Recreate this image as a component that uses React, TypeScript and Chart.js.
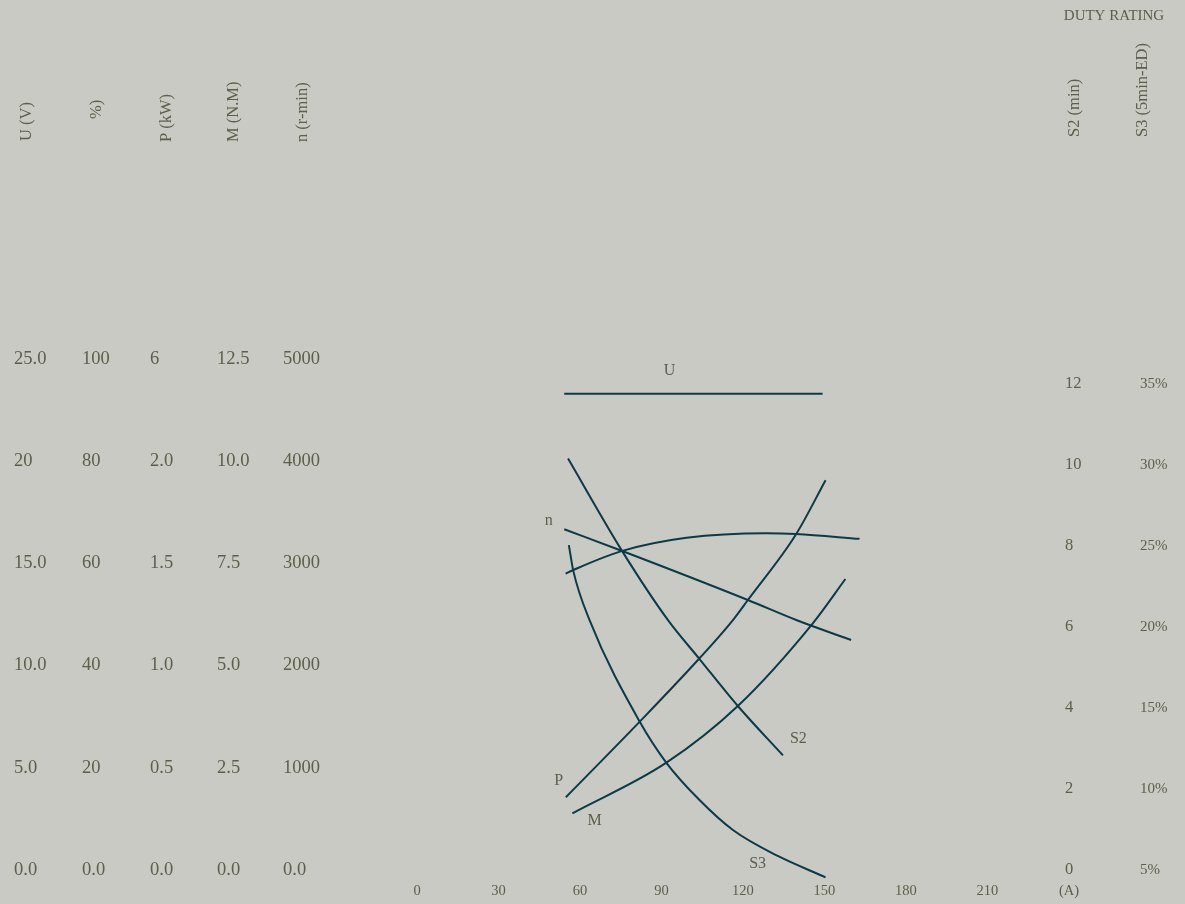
import React, { useEffect, useRef } from 'react';
import { Chart, registerables } from 'chart.js';

Chart.register(...registerables);

// ---------- Axis ticks ----------
const currentTicks = [0, 30, 60, 90, 120, 150, 180, 210, 240];
const currentTickLabels = ['0', '30', '60', '90', '120', '150', '180', '210', '(A)'];
const currentMax = 237.8;

const voltTicks = [0, 5, 10, 15, 20, 25];
const voltTickLabels = ['0.0', '5.0', '10.0', '15.0', '20', '25.0'];
const effTicks = [0, 20, 40, 60, 80, 100];
const effTickLabels = ['0.0', '20', '40', '60', '80', '100'];
const powerTicks = [0, 0.5, 1, 1.5, 2, 2.5];
const powerTickLabels = ['0.0', '0.5', '1.0', '1.5', '2.0', '6'];
const torqueTicks = [0, 2.5, 5, 7.5, 10, 12.5];
const torqueTickLabels = ['0.0', '2.5', '5.0', '7.5', '10.0', '12.5'];
const speedTicks = [0, 1000, 2000, 3000, 4000, 5000];
const speedTickLabels = ['0.0', '1000', '2000', '3000', '4000', '5000'];
const s2Ticks = [0, 2, 4, 6, 8, 10, 12];
const s2TickLabels = ['0', '2', '4', '6', '8', '10', '12'];
const s3Ticks = [5, 10, 15, 20, 25, 30, 35];
const s3TickLabels = ['5%', '10%', '15%', '20%', '25%', '30%', '35%'];

// ---------- Series (current in A) ----------
const uCurrent = [54.2, 149.3];
const uVolts = [23.3, 23.3];

const nCurrent = [54.2, 75.3, 121.8, 139.6, 159.8];
const nSpeed = [3334, 3124, 2642, 2446, 2250];

const effCurrent = [54.7, 57.5, 75.3, 99.2, 128.6, 139.6, 162.9];
const effPercent = [58.0, 58.7, 62.4, 65.0, 65.9, 65.75, 64.8];

const pCurrent = [54.8, 82.0, 104.0, 116.3, 121.8, 139.6, 150.4];
const pPower = [0.356, 0.726, 1.036, 1.223, 1.321, 1.644, 1.907];

const mCurrent = [57.2, 91.8, 118.1, 145.7, 157.7];
const mTorque = [1.387, 2.625, 4.012, 6.035, 7.118];

const s2Current = [55.6, 75.3, 92.4, 104.0, 118.1, 134.7];
const s2Minutes = [10.16, 7.9, 6.17, 5.21, 4.05, 2.83];

const s3Current = [55.9, 57.5, 63.6, 82.0, 91.8, 104.0, 116.3, 133.0, 150.4];
const s3Percent = [25.06, 23.5, 20.4, 14.15, 11.62, 9.32, 7.47, 5.85, 4.55];

// ---------- Curve name labels (in data units) ----------
const curveLabels = [
  { text: 'U', axis: 'yU', x: 93, y: 24.4 },
  { text: 'n', axis: 'yN', x: 48.5, y: 3415 },
  { text: 'P', axis: 'yP', x: 52.2, y: 0.435 },
  { text: 'M', axis: 'yM', x: 65.4, y: 1.2 },
  { text: 'S2', axis: 'yS2', x: 140.4, y: 3.23 },
  { text: 'S3', axis: 'yS3', x: 125.4, y: 5.37 },
];

const axisTitles = [
  { axis: 'yU', text: 'U (V)', dx: 13, bottom: 141 },
  { axis: 'yE', text: '%)', dx: 15, bottom: 119 },
  { axis: 'yP', text: 'P (kW)', dx: 17, bottom: 142 },
  { axis: 'yM', text: 'M (N.M)', dx: 17, bottom: 142 },
  { axis: 'yN', text: 'n (r-min)', dx: 20, bottom: 142 },
  { axis: 'yS2', text: 'S2 (min)', dx: 12, bottom: 137 },
  { axis: 'yS3', text: 'S3 (5min-ED)', dx: 14, bottom: 137 },
];

const FONT = "'Liberation Serif', 'Times New Roman', serif";
const TEXT = '#5b5f4b';
const LINE = '#0b3a49';
const BG = '#c9cac4';

const zip = (xs: number[], ys: number[]) => xs.map((x, i) => ({ x, y: ys[i] }));

function leftAxis(ticks: number[], labels: string[], width: number, weight: number) {
  return {
    type: 'linear',
    position: 'left',
    weight,
    min: ticks[0],
    max: ticks[ticks.length - 1],
    grid: { display: false, drawTicks: false },
    border: { display: false },
    afterBuildTicks: (s: any) => { s.ticks = ticks.map((v) => ({ value: v })); },
    afterFit: (s: any) => { s.width = width; },
    ticks: {
      crossAlign: 'far',
      padding: 0,
      color: TEXT,
      font: { family: FONT, size: 18.5 },
      autoSkip: false,
      callback: (_v: any, i: number) => labels[i],
    },
  };
}

function rightAxis(ticks: number[], labels: string[], min: number, max: number, width: number, weight: number, padding: number, size: number) {
  return {
    type: 'linear',
    position: 'right',
    weight,
    min,
    max,
    grid: { display: false, drawTicks: false },
    border: { display: false },
    afterBuildTicks: (s: any) => { s.ticks = ticks.map((v) => ({ value: v })); },
    afterFit: (s: any) => { s.width = width; },
    ticks: {
      crossAlign: 'near',
      padding,
      color: TEXT,
      font: { family: FONT, size },
      autoSkip: false,
      callback: (_v: any, i: number) => labels[i],
    },
  };
}

const textPlugin = {
  id: 'textPlugin',
  afterDraw(chart: any) {
    const ctx = chart.ctx;
    ctx.save();
    ctx.fillStyle = TEXT;
    // axis titles (rotated)
    ctx.font = `16.5px ${FONT}`;
    axisTitles.forEach((t) => {
      const sc = chart.scales[t.axis];
      ctx.save();
      ctx.translate(sc.left + t.dx, t.bottom);
      ctx.rotate(-Math.PI / 2);
      ctx.textAlign = 'left';
      ctx.textBaseline = 'middle';
      ctx.fillText(t.text, 0, 0);
      ctx.restore();
    });
    // duty rating header
    ctx.font = `15px ${FONT}`;
    ctx.textAlign = 'center';
    ctx.textBaseline = 'middle';
    const s2 = chart.scales.yS2;
    ctx.fillText('DUTY RATING', s2.left + 51, 16);
    // curve labels
    ctx.font = `16px ${FONT}`;
    const xs = chart.scales.x;
    curveLabels.forEach((l) => {
      const px = xs.getPixelForValue(l.x);
      const py = chart.scales[l.axis].getPixelForValue(l.y);
      ctx.fillText(l.text, px, py);
    });
    ctx.restore();
  },
};

function lineDs(data: { x: number; y: number }[], yAxisID: string) {
  return {
    data,
    yAxisID,
    borderColor: LINE,
    backgroundColor: LINE,
    borderWidth: 2,
    pointRadius: 0,
    fill: false,
    cubicInterpolationMode: 'monotone',
    clip: false,
  };
}

export default function App() {
  const ref = useRef<HTMLCanvasElement>(null);
  useEffect(() => {
    const canvas = ref.current;
    if (!canvas) return;
    const chart = new Chart(canvas, {
      type: 'line',
      data: {
        datasets: [
          lineDs(zip(uCurrent, uVolts), 'yU'),
          lineDs(zip(nCurrent, nSpeed), 'yN'),
          lineDs(zip(effCurrent, effPercent), 'yE'),
          lineDs(zip(pCurrent, pPower), 'yP'),
          lineDs(zip(mCurrent, mTorque), 'yM'),
          lineDs(zip(s2Current, s2Minutes), 'yS2'),
          lineDs(zip(s3Current, s3Percent), 'yS3'),
        ] as any,
      },
      options: {
        responsive: false,
        animation: false,
        layout: { padding: { top: 359, left: 14, right: 0, bottom: 0 } },
        plugins: { legend: { display: false }, tooltip: { enabled: false }, title: { display: false } },
        scales: {
          x: {
            type: 'linear',
            position: 'bottom',
            min: currentTicks[0],
            max: currentMax,
            grid: { display: false, drawTicks: false },
            border: { display: false },
            afterBuildTicks: (s: any) => { s.ticks = currentTicks.map((v) => ({ value: v })); },
            afterFit: (s: any) => { s.height = 34; },
            ticks: {
              padding: 12,
              maxRotation: 0,
              autoSkip: false,
              color: TEXT,
              font: { family: FONT, size: 14.5 },
              callback: (_v: any, i: number) => currentTickLabels[i],
            },
          },
          yU: leftAxis(voltTicks, voltTickLabels, 68, 5),
          yE: leftAxis(effTicks, effTickLabels, 68, 4),
          yP: leftAxis(powerTicks, powerTickLabels, 67, 3),
          yM: leftAxis(torqueTicks, torqueTickLabels, 66, 2),
          yN: leftAxis(speedTicks, speedTickLabels, 134, 1),
          yS2: rightAxis(s2Ticks, s2TickLabels, 0, 12.62, 66, 0, 2, 16.5),
          yS3: rightAxis(s3Ticks, s3TickLabels, 5, 36.55, 56, 1, 11, 15),
        } as any,
      },
      plugins: [textPlugin],
    } as any);
    return () => chart.destroy();
  }, []);
  return (
    <div style={{ position: 'fixed', left: 0, top: 0, width: 1185, height: 904, background: BG }}>
      <canvas ref={ref} width={1185} height={904} style={{ display: 'block' }} />
    </div>
  );
}
